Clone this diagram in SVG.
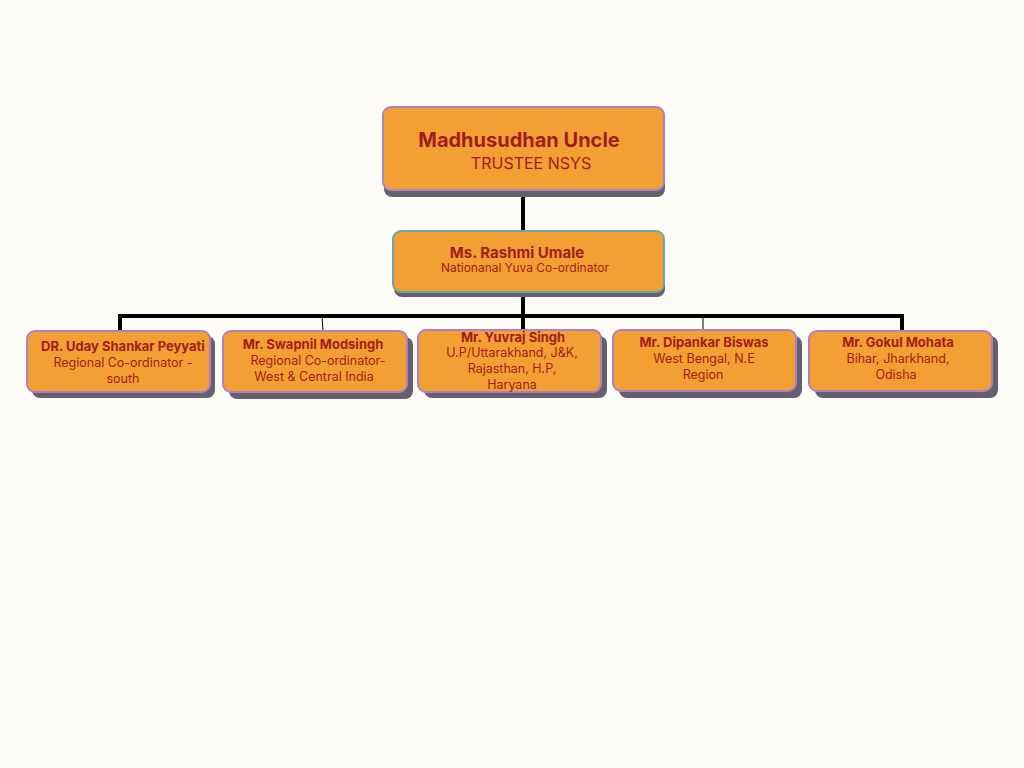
<svg xmlns="http://www.w3.org/2000/svg" width="1024" height="768" viewBox="0 0 1024 768">
<style>
.sh{fill:#64606e}
.bx{fill:#f2a033;stroke:#b07fc4;stroke-width:2}
.t{font-family:Inter,"Liberation Sans",sans-serif;fill:#a31c1c;text-anchor:middle}
.b{font-weight:bold;font-size:13px}
.n{font-size:12.5px}
.thick{stroke:#000;stroke-width:4;fill:none}
.thin{stroke:#000;stroke-width:1;fill:none}
</style>
<rect width="1024" height="768" fill="#fefcf7"/>
<g id="connectors">
<path class="thick" d="M523 190V231M523 292V331M120 331V316H902V331"/>
<path class="thin" d="M322 316L323 331M703 316V331"/>
</g>
<g id="n1"><rect class="sh" x="384" y="114" width="281" height="83" rx="8"/><rect class="bx" x="383" y="107" width="281" height="83" rx="8"/>
<text class="t" x="519" y="147" font-weight="bold" font-size="20">Madhusudhan Uncle</text>
<text class="t" x="531" y="169" font-size="16">TRUSTEE NSYS</text></g>
<g id="n2"><rect class="sh" x="394" y="236" width="271" height="61" rx="8"/><rect class="bx" x="393" y="231" width="271" height="61" rx="8" style="stroke:#6aa8a8"/>
<text class="t" x="517" y="258" font-weight="bold" font-size="15">Ms. Rashmi Umale</text>
<text class="t" x="525" y="272" font-size="12">Nationanal Yuva Co-ordinator</text></g>
<g id="n3"><rect class="sh" x="32" y="336" width="183" height="62" rx="8"/><rect class="bx" x="27" y="331" width="183" height="61" rx="8"/>
<text class="t b" x="123" y="351">DR. Uday Shankar Peyyati</text>
<text class="t n" x="123" y="367">Regional Co-ordinator -</text>
<text class="t n" x="123" y="383">south</text></g>
<g id="n4"><rect class="sh" x="229" y="337" width="184" height="62" rx="8"/><rect class="bx" x="223" y="331" width="184" height="61" rx="8"/>
<text class="t b" x="313" y="349">Mr. Swapnil Modsingh</text>
<text class="t n" x="318" y="365">Regional Co-ordinator-</text>
<text class="t n" x="314" y="381">West &amp; Central India</text></g>
<g id="n5"><rect class="sh" x="424" y="336" width="183" height="62" rx="8"/><rect class="bx" x="418" y="330" width="183" height="62" rx="8"/>
<text class="t b" x="513" y="342">Mr. Yuvraj Singh</text>
<text class="t n" x="512" y="357">U.P/Uttarakhand, J&amp;K,</text>
<text class="t n" x="512" y="373">Rajasthan, H.P,</text>
<text class="t n" x="512" y="389">Haryana</text></g>
<g id="n6"><rect class="sh" x="619" y="336" width="183" height="62" rx="8"/><rect class="bx" x="613" y="330" width="183" height="61" rx="8"/>
<text class="t b" x="704" y="347">Mr. Dipankar Biswas</text>
<text class="t n" x="704" y="363">West Bengal, N.E</text>
<text class="t n" x="703" y="379">Region</text></g>
<g id="n7"><rect class="sh" x="815" y="336" width="183" height="62" rx="8"/><rect class="bx" x="809" y="331" width="183" height="60" rx="8"/>
<text class="t b" x="898" y="347">Mr. Gokul Mohata</text>
<text class="t n" x="898" y="363">Bihar, Jharkhand,</text>
<text class="t n" x="896" y="379">Odisha</text></g>
</svg>
